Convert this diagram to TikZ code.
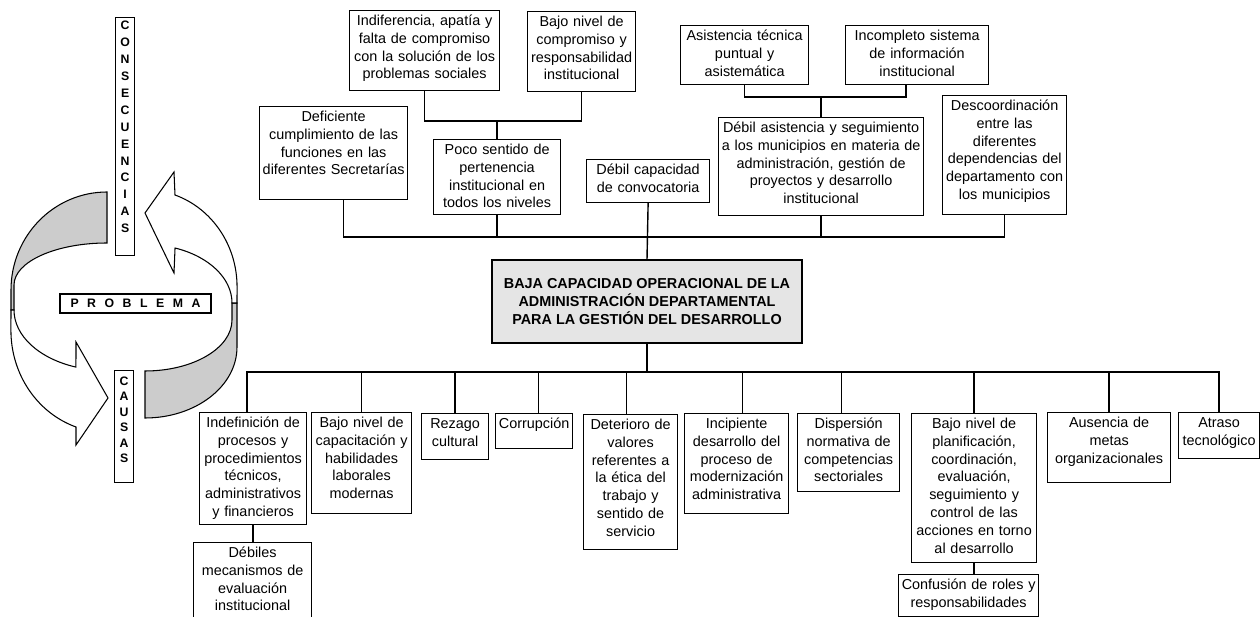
\documentclass[tikz,border=0pt]{standalone}
\usepackage{fontspec}
\setmainfont{Liberation Sans}

\begin{document}
\begin{tikzpicture}
		[x=0.02cm, y=-0.02cm,
		 cell/.style 2 args = {draw, line width=0.7pt, fill=white, anchor=north west, align=center,
		 	inner xsep=0pt, inner ysep=2pt, font=\fontsize{8.2}{10.2}\selectfont,
		 	minimum width=#1*0.02cm, text width=#1*0.02cm,
		 	text height=6.3pt, text depth=#2*0.02cm-10.3pt},
		 core/.style = {draw, line width=0.7pt, fill=gray!20, align=center,
		 	minimum width=6.2cm, minimum height=1.66cm, font=\fontsize{8.2}{10.4}\selectfont\bfseries},
		 vlet/.style = {font=\fontsize{7}{9.64}\selectfont\bfseries},
		 back/.style = {draw, line width=0.6pt, fill=gray!40},
		 front/.style = {draw, line width=0.6pt, fill=white},
		 link/.style = {line width=0.8pt}]
		\useasboundingbox (0,0) rectangle (1260,617);
		\clip (0,0) rectangle (1260,617);

		\draw[back] (107,192) arc[start angle=270, end angle=180, x radius=96, y radius=98]
			-- (11,310) -- (14,310) -- (14,285)
			arc[start angle=180, end angle=270, x radius=93, y radius=42] -- cycle;
		\draw[front] (14,310) arc[start angle=180, end angle=109.5, x radius=93, y radius=60.6]
			-- (76,342) -- (108,398) -- (76,445) -- (76,427)
			arc[start angle=108.8, end angle=180, x radius=96, y radius=102] -- (11,310) -- cycle;
		\draw[back] (145,418) arc[start angle=90, end angle=0, x radius=92, y radius=71]
			-- (237,303) -- (232,303) -- (232,320)
			arc[start angle=0, end angle=90, x radius=87, y radius=51] -- cycle;
		\draw[front] (232,303) arc[start angle=0, end angle=-69.8, x radius=87, y radius=58.6]
			-- (174,273) -- (145,213) -- (174,172) -- (175,195)
			arc[start angle=-71, end angle=0, x radius=92, y radius=97] -- (237,303) -- cycle;

		\node[cell={19}{238}, vlet, text height=4.8pt, text depth=238*0.02cm-8.8pt] (conseq) at (115,17)
			{C\\O\\N\\S\\E\\C\\U\\E\\N\\C\\I\\A\\S};
		\node[cell={19}{112}, vlet, font=\fontsize{7}{8.8}\selectfont\bfseries] (causas) at (114,370)
			{C\\A\\U\\S\\A\\S};
		\node[draw, line width=0.7pt, fill=white, inner sep=0pt, minimum width=3.02cm, minimum height=0.38cm,
			vlet] (probl) at (135.5,303.5) {\hbox to 2.6cm{P\hfil R\hfil O\hfil B\hfil L\hfil E\hfil M\hfil A}};

		\node[core] (centre) at (647,301.5)
			{BAJA CAPACIDAD OPERACIONAL DE LA\\ADMINISTRACIÓN DEPARTAMENTAL\\PARA LA GESTIÓN DEL DESARROLLO};

		\node[cell={148}{93}] (defic) at (259,106) {Deficiente\\cumplimiento de las\\funciones en las\\diferentes Secretarías};
		\node[cell={150}{80}] (indif) at (349,10) {Indiferencia, apatía y\\falta de compromiso\\con la solución de los\\problemas sociales};
		\node[cell={108}{80}] (bajocomp) at (527,11) {Bajo nivel de\\compromiso y\\responsabilidad\\institucional};
		\node[cell={127}{75}] (poco) at (433,139) {Poco sentido de\\pertenencia\\institucional en\\todos los niveles};
		\node[cell={123}{43}] (convoc) at (586,159) {Débil capacidad\\de convocatoria};
		\node[cell={128}{59}] (asist) at (680,25) {Asistencia técnica\\puntual y\\asistemática};
		\node[cell={143}{59}] (incompl) at (845,25) {Incompleto sistema\\de información\\institucional};
		\node[cell={205}{98}] (debilas) at (718,117) {Débil asistencia y seguimiento\\a los municipios en materia de\\administración, gestión de\\proyectos y desarrollo\\institucional};
		\node[cell={124}{119}] (descoor) at (942,95) {Descoordinación\\entre las\\diferentes\\dependencias del\\departamento con\\los municipios};

		\node[cell={107}{112}] (indef) at (199,412) {Indefinición de\\procesos y\\procedimientos\\técnicos,\\administrativos\\y financieros};
		\node[cell={118}{95}] (debmec) at (193,542) {Débiles\\mecanismos de\\evaluación\\institucional};
		\node[cell={100}{101}] (bajocap) at (311,412) {Bajo nivel de\\capacitación y\\habilidades\\laborales\\modernas};
		\node[cell={67}{46}] (rezago) at (421,413) {Rezago\\cultural};
		\node[cell={77}{35}] (corrup) at (495,413) {Corrupción};
		\node[cell={94}{135}] (deter) at (583,414) {Deterioro de\\valores\\referentes a\\la ética del\\trabajo y\\sentido de\\servicio};
		\node[cell={104}{100}] (incip) at (684,413) {Incipiente\\desarrollo del\\proceso de\\modernización\\administrativa};
		\node[cell={102}{78}] (dispers) at (797,413) {Dispersión\\normativa de\\competencias\\sectoriales};
		\node[cell={125}{149}] (bajoplan) at (911,413) {Bajo nivel de\\planificación,\\coordinación,\\evaluación,\\seguimiento y\\control de las\\acciones en torno\\al desarrollo};
		\node[cell={140}{42}] (confus) at (898,574) {Confusión de roles y\\responsabilidades};
		\node[cell={123}{70}] (ausen) at (1047,412) {Ausencia de\\metas\\organizacionales};
		\node[cell={81}{46}] (atraso) at (1178,412) {Atraso\\tecnológico};

		\coordinate (topbus) at (0,237);
		\coordinate (tj) at (0,121);
		\coordinate (rj) at (0,97);
		\coordinate (botbus) at (0,372);
		\coordinate (incdrop) at ([xshift=-0.22cm]incompl.south);

		\draw[link] ([xshift=0.2cm]defic.south) |- (topbus -| descoor.south) -- (descoor.south);
		\draw[link] (poco.south) -- (poco.south |- topbus);
		\draw[link] (debilas.south) -- (debilas.south |- topbus);
		\draw[link] (convoc.south) -- (centre.north);
		\draw[link] (indif.south) |- (tj -| bajocomp.south) -- (bajocomp.south);
		\draw[link] (poco.north) -- (poco.north |- tj);
		\draw[link] (asist.south) |- (rj -| incdrop) -- (incdrop);
		\draw[link] (debilas.north) -- (debilas.north |- rj);

		\draw[link] ([xshift=-0.12cm]indef.north) |- (botbus -| atraso.north) -- (atraso.north);
		\draw[link] (centre.south) -- (centre.south |- botbus);
		\draw[link] (bajocap.north) -- (bajocap.north |- botbus);
		\draw[link] (rezago.north) -- (rezago.north |- botbus);
		\draw[link] ([xshift=0.09cm]corrup.north) -- ([xshift=0.09cm]corrup.north |- botbus);
		\draw[link] ([xshift=-0.08cm]deter.north) -- ([xshift=-0.08cm]deter.north |- botbus);
		\draw[link] ([xshift=0.12cm]incip.north) -- ([xshift=0.12cm]incip.north |- botbus);
		\draw[link] ([xshift=-0.14cm]dispers.north) -- ([xshift=-0.14cm]dispers.north |- botbus);
		\draw[link] (bajoplan.north) -- (bajoplan.north |- botbus);
		\draw[link] (ausen.north) -- (ausen.north |- botbus);
		\draw[link] (indef.south) -- (indef.south |- debmec.north);
		\draw[link] (bajoplan.south) -- (bajoplan.south |- confus.north);
	\end{tikzpicture}
\end{document}
